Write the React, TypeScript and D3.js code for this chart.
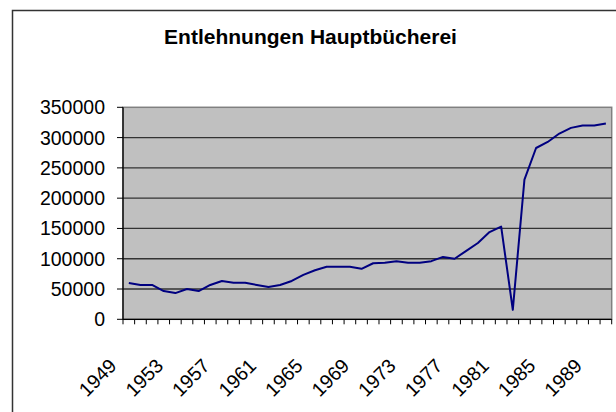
import React from "react";
import * as d3 from "d3";

const years: number[] = [
  1949, 1950, 1951, 1952, 1953, 1954, 1955, 1956, 1957, 1958, 1959, 1960, 1961, 1962,
  1963, 1964, 1965, 1966, 1967, 1968, 1969, 1970, 1971, 1972, 1973, 1974, 1975, 1976,
  1977, 1978, 1979, 1980, 1981, 1982, 1983, 1984, 1985, 1986, 1987, 1988, 1989, 1990,
];

const loans: number[] = [
  60000, 56700, 56700, 46700, 43300, 50000, 46700, 56700, 63300, 60500, 60500, 56700,
  53300, 56700, 63300, 73300, 81000, 86700, 86700, 86700, 83300, 92500, 93300, 96000,
  93300, 93300, 96000, 103000, 100000, 113000, 126000, 144000, 153000, 15700, 230600,
  282800, 292800, 306700, 316000, 320000, 320000, 323300,
];

const yTicks: number[] = [0, 50000, 100000, 150000, 200000, 250000, 300000, 350000];
const xLabels: number[] = [1949, 1953, 1957, 1961, 1965, 1969, 1973, 1977, 1981, 1985, 1989];

const title = "Entlehnungen Hauptbücherei";

export default function App() {
  const width = 616;
  const height = 412;
  const plot = { left: 123, right: 611.7, top: 107.3, bottom: 319.3 };
  const font = "'Liberation Sans', Arial, sans-serif";

  const x = d3
    .scaleBand<number>()
    .domain(years)
    .range([plot.left, plot.right])
    .padding(0);

  const y = d3.scaleLinear().domain([0, 350000]).range([plot.bottom, plot.top]);

  const cx = (yr: number) => (x(yr) ?? 0) + x.bandwidth() / 2;

  const line = d3
    .line<number>()
    .x((_, i) => cx(years[i]))
    .y((d) => y(d));

  // category boundary ticks
  const boundaries = d3.range(years.length + 1).map((i) => plot.left + i * x.bandwidth());

  return (
    <svg width={width} height={height} style={{ position: "absolute", left: 0, top: 0, background: "#fff" }}>
      {/* chart frame */}
      <rect x={12.5} y={10.5} width={700} height={500} fill="#fff" stroke="#333" strokeWidth={1.5} />

      <text x={310.5} y={44} textAnchor="middle" fontFamily={font} fontWeight="bold" fontSize={21} fill="#000">
        {title}
      </text>

      {/* plot area */}
      <rect
        x={plot.left}
        y={plot.top}
        width={plot.right - plot.left}
        height={plot.bottom - plot.top}
        fill="#c0c0c0"
        stroke="#808080"
        strokeWidth={1.5}
      />

      {/* gridlines */}
      {yTicks.slice(1, -1).map((t) => (
        <line key={t} x1={plot.left} x2={plot.right} y1={y(t)} y2={y(t)} stroke="#333" strokeWidth={1.3} />
      ))}

      {/* y axis */}
      <line x1={plot.left} x2={plot.left} y1={plot.top} y2={plot.bottom} stroke="#000" strokeWidth={1.3} />
      {yTicks.map((t) => (
        <g key={t}>
          <line x1={plot.left - 6} x2={plot.left} y1={y(t)} y2={y(t)} stroke="#000" strokeWidth={1} />
          <text
            x={105}
            y={y(t)}
            textAnchor="end"
            dominantBaseline="central"
            fontFamily={font}
            fontSize={19.5}
            fill="#000"
          >
            {t}
          </text>
        </g>
      ))}

      {/* x axis */}
      <line x1={plot.left} x2={plot.right} y1={plot.bottom} y2={plot.bottom} stroke="#000" strokeWidth={1.3} />
      {boundaries.map((bx, i) => (
        <line key={i} x1={bx} x2={bx} y1={plot.bottom} y2={plot.bottom + 5} stroke="#000" strokeWidth={1} />
      ))}
      {xLabels.map((yr) => {
        const lx = cx(yr) - 16;
        const ly = 362;
        return (
          <text
            key={yr}
            x={lx}
            y={ly}
            textAnchor="end"
            dominantBaseline="central"
            transform={`rotate(-45 ${lx} ${ly})`}
            fontFamily={font}
            fontSize={19.5}
            fill="#000"
          >
            {yr}
          </text>
        );
      })}

      {/* series */}
      <path d={line(loans) ?? ""} fill="none" stroke="#000080" strokeWidth={2} strokeLinejoin="round" />
    </svg>
  );
}
